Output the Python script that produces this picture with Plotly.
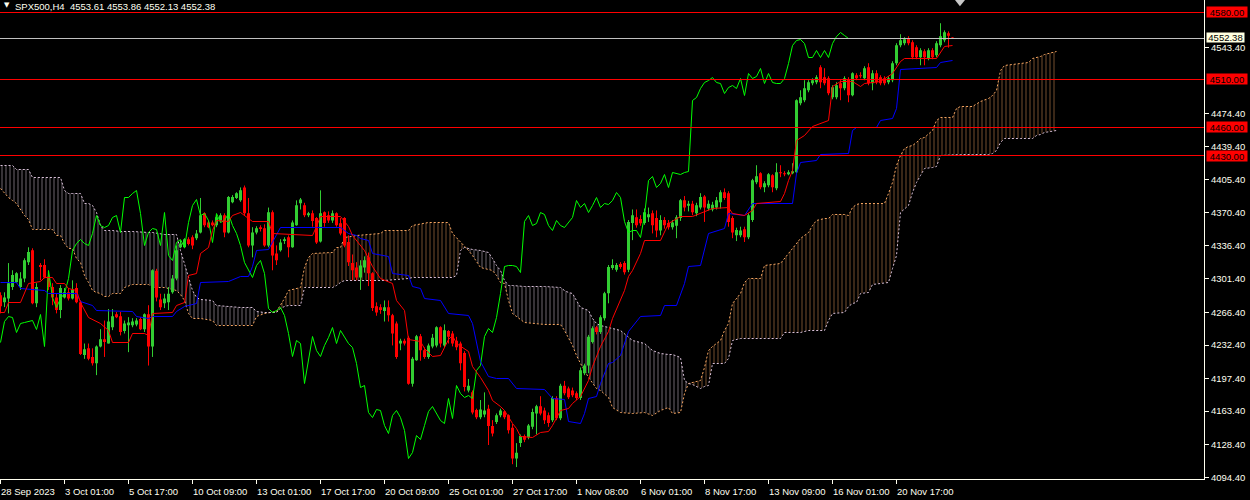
import numpy as np
import plotly.graph_objects as go

# SPX500 H4 bars, bar 0 = 28 Sep 2023
open_ = [4284.5, 4277, 4281, 4293, 4298, 4293, 4302, 4319, 4331.5, 4276,
         4316, 4316, 4304, 4293, 4282, 4269, 4282, 4287.5, 4281, 4292,
         4277, 4222, 4229, 4220, 4213.5, 4231, 4238.5, 4234, 4251, 4264.5,
         4262.5, 4247, 4253, 4253, 4254, 4259.5, 4249, 4264.5, 4231, 4310,
         4280, 4276, 4277, 4287.5, 4302, 4334.5, 4334.5, 4343, 4345, 4344,
         4350, 4370, 4360.5, 4360.5, 4357.5, 4362.5, 4368, 4350, 4381.5, 4386,
         4383.5, 4397, 4370, 4336.5, 4350, 4355.5, 4354.5, 4336.5, 4371, 4328,
         4331.5, 4341, 4345, 4334.5, 4357.5, 4380.5, 4378.5, 4368, 4370, 4365,
         4340.5, 4371, 4368, 4362.5, 4370, 4359.5, 4365, 4340, 4318, 4313.5,
         4303, 4313.5, 4324, 4307.5, 4273, 4272, 4268, 4272, 4263.5, 4255,
         4234, 4237, 4240, 4192, 4216.5, 4241.5, 4227, 4220, 4231, 4232,
         4251, 4232, 4247, 4244.5, 4237, 4234, 4224, 4185, 4183, 4164.5,
         4157, 4160, 4166, 4148, 4152, 4159, 4163, 4159, 4146, 4114,
         4130, 4137.5, 4136, 4147, 4161, 4168.5, 4164, 4159, 4154, 4177,
         4156, 4190, 4187, 4185, 4182, 4177, 4203, 4211, 4235.5, 4251,
         4246, 4260.5, 4286.5, 4313, 4311, 4317, 4318, 4311, 4360, 4366,
         4364, 4360, 4366, 4370, 4365, 4352, 4363, 4360, 4355.5, 4357,
         4365, 4383.5, 4378, 4380, 4370, 4376, 4387.5, 4375, 4374, 4376,
         4381.5, 4392, 4391, 4365, 4347, 4347, 4353.4, 4345, 4363, 4402.4,
         4411.8, 4397.2, 4399.3, 4409.7, 4396.2, 4412.9, 4411.8, 4410.8, 4411.8, 4412.9,
         4484.9, 4488.1, 4498.5, 4505.8, 4506.9, 4522.5, 4512.1, 4511.0, 4491.2, 4491.2,
         4505.8, 4500.6, 4510.0, 4493.3, 4514.2, 4514.2, 4511.0, 4522.5, 4505.8, 4516.3,
         4512.1, 4511.0, 4506.9, 4509.0, 4526.7, 4545.5, 4547.6, 4552.8, 4548.6, 4543.4,
         4533.0, 4539.2, 4531.9, 4540.3, 4535.1, 4545.5, 4550.7, 4558.0, 4553.61]
high = [4287.5, 4287.5, 4318, 4310.5, 4308.5, 4308.5, 4323, 4334.5, 4333.5, 4297,
        4318, 4322, 4307.5, 4297, 4286, 4295, 4292, 4292, 4300, 4297,
        4279, 4234, 4234, 4229, 4232, 4249, 4258, 4270, 4270, 4267,
        4267, 4258, 4261.5, 4260.5, 4260.5, 4261.5, 4265.5, 4274, 4311.5, 4312,
        4286, 4286, 4293, 4305.5, 4336.5, 4342, 4344, 4345, 4347, 4352.5,
        4386, 4371, 4362.5, 4362.5, 4368, 4370, 4370, 4388, 4389, 4392,
        4397, 4399, 4386, 4355.5, 4356.5, 4357.5, 4358.5, 4376, 4373, 4336.5,
        4343, 4345, 4347, 4362.5, 4383.5, 4386, 4381, 4371.5, 4373, 4366,
        4394, 4372, 4372, 4373, 4371, 4365, 4366, 4347, 4327, 4319,
        4321, 4325, 4329, 4308.5, 4277, 4275, 4279, 4279, 4265, 4257,
        4239, 4239, 4242, 4220, 4243, 4244, 4230, 4234, 4244, 4252,
        4252, 4254, 4248, 4247, 4241, 4236, 4226, 4197, 4185, 4166,
        4175, 4183, 4170, 4154, 4161, 4166, 4164, 4160, 4150, 4130,
        4139, 4139, 4150, 4166, 4170, 4179, 4167, 4162, 4179, 4179,
        4192, 4195, 4189, 4188, 4184, 4209, 4213, 4243, 4252, 4252.5,
        4263.5, 4288, 4316, 4322, 4318, 4319, 4320, 4363, 4374, 4374,
        4368, 4375, 4376, 4373, 4373, 4368, 4366, 4363, 4363, 4368,
        4385, 4388, 4383, 4383, 4381, 4391, 4389, 4383.5, 4382, 4387,
        4394, 4396, 4393, 4367, 4355, 4356, 4356, 4370, 4406, 4420.2,
        4412.9, 4403.5, 4412, 4410.8, 4422.3, 4420.2, 4414.0, 4415.0, 4422.3, 4489.0,
        4498.5, 4509.0, 4509.0, 4511.0, 4514.2, 4524.6, 4521.5, 4513.1, 4503.7, 4506.9,
        4509.0, 4513.1, 4512.1, 4517.3, 4516.3, 4517.3, 4523.6, 4526.7, 4519.4, 4519.4,
        4514.2, 4513.1, 4513.1, 4528.8, 4547.6, 4557.0, 4553.9, 4554.9, 4550.7, 4545.5,
        4542.4, 4541.3, 4542.4, 4542.4, 4549.7, 4568.5, 4561.0, 4560.0, 4553.86]
low = [4265.5, 4272, 4265.5, 4290, 4297, 4290, 4298, 4316, 4275, 4272,
       4300, 4302, 4290, 4274, 4265.5, 4260.5, 4281, 4279, 4280, 4276,
       4222, 4218, 4216.5, 4211, 4201, 4230, 4220, 4234, 4248, 4260.5,
       4242.5, 4244.5, 4225, 4251, 4252, 4248, 4246, 4211, 4220, 4278,
       4269, 4271, 4269, 4286, 4300, 4333.5, 4333.5, 4336.5, 4332.5, 4342,
       4349, 4355.5, 4354.5, 4356.5, 4355.5, 4360.5, 4345, 4349, 4380.5, 4385,
       4382, 4368, 4334.5, 4324, 4348, 4351, 4335, 4334.5, 4310.5, 4316,
       4330, 4338, 4324, 4334, 4357, 4374, 4366, 4366, 4356, 4338,
       4339.5, 4356, 4360, 4360, 4356, 4347, 4334.5, 4315, 4300, 4300,
       4290, 4308, 4294, 4268, 4263, 4265, 4257, 4257, 4232, 4218,
       4227, 4232, 4191, 4189, 4216, 4216, 4218, 4218, 4229, 4230,
       4230, 4230, 4234, 4231, 4227, 4206, 4184, 4183, 4160, 4155,
       4155, 4157, 4128, 4137, 4150, 4157, 4155, 4140, 4108, 4105,
       4126, 4131, 4134, 4144.5, 4139, 4159, 4150, 4147, 4152, 4154,
       4154, 4180, 4176, 4178, 4175, 4175, 4201, 4203, 4234, 4243.5,
       4244, 4258, 4276, 4311, 4309, 4312, 4306, 4308.5, 4342, 4355,
       4357, 4358, 4361, 4349, 4345, 4347, 4354, 4353, 4353, 4344,
       4362, 4372, 4372, 4368, 4367, 4374, 4361, 4373, 4372, 4374,
       4375, 4384, 4356, 4344, 4341, 4345, 4340, 4343, 4361, 4400.4,
       4395.1, 4392.0, 4397.2, 4392.0, 4394.1, 4407.7, 4408.7, 4409.7, 4410.8, 4411.8,
       4482.8, 4486.0, 4496.4, 4503.7, 4504.8, 4500.6, 4503.7, 4493.3, 4489.1, 4489.1,
       4488.1, 4498.5, 4486.0, 4492.2, 4509.0, 4511.0, 4509.0, 4503.7, 4498.5, 4504.8,
       4503.7, 4503.7, 4504.8, 4506.9, 4524.6, 4543.4, 4545.5, 4545.5, 4530.9, 4530.9,
       4524.6, 4524.6, 4529.8, 4530.9, 4533.0, 4543.4, 4548.6, 4543.0, 4552.13]
close = [4273, 4282, 4297, 4305.5, 4307.5, 4302, 4321, 4329.5, 4276, 4293,
         4314, 4303, 4293, 4282, 4269, 4292, 4287.5, 4281, 4290.5, 4277,
         4223, 4228, 4218, 4213.5, 4231, 4238.5, 4235.5, 4257, 4262.5, 4261.5,
         4246, 4255, 4256, 4257, 4258, 4249, 4264.5, 4231, 4310.5, 4282,
         4272, 4281, 4286, 4302, 4331.5, 4338.5, 4343, 4338, 4336.5, 4349,
         4368, 4357.5, 4355.5, 4357.5, 4366, 4368, 4350, 4387, 4387, 4391,
         4394, 4370, 4336.5, 4350, 4354.5, 4353.5, 4336.5, 4371, 4326, 4321,
         4339.5, 4343, 4334.5, 4360.5, 4378.5, 4384.5, 4368, 4370, 4362, 4339.5,
         4370, 4360, 4362.5, 4370, 4357.5, 4349, 4336.5, 4319, 4310.5, 4303,
         4315.5, 4321, 4307.5, 4271, 4266.5, 4269, 4272, 4263.5, 4244.5, 4220,
         4237, 4234, 4192, 4218, 4241.5, 4227, 4220, 4232, 4240, 4251,
         4234, 4248, 4241, 4234, 4230, 4213.5, 4188.5, 4190, 4162, 4157,
         4165, 4164, 4148, 4140, 4159, 4164, 4157, 4143.5, 4114, 4120,
         4137.5, 4133.5, 4148.5, 4162.5, 4168.5, 4161, 4154, 4151, 4177, 4156,
         4190, 4182, 4178, 4180, 4177, 4206, 4211, 4241, 4250, 4246,
         4261.5, 4286.5, 4314, 4316, 4316, 4314, 4308.5, 4361, 4368, 4357.5,
         4359.5, 4371, 4369, 4357.5, 4352, 4363, 4357.5, 4355.5, 4360.5, 4366,
         4383.5, 4376, 4380, 4371, 4378.5, 4387, 4376, 4380, 4379, 4383.5,
         4392, 4386, 4361, 4350, 4352.5, 4352, 4345, 4368, 4404.5, 4408.7,
         4397.2, 4401.4, 4410.8, 4397.2, 4412.9, 4411.8, 4410.8, 4412.9, 4414.0, 4488.1,
         4491.2, 4500.6, 4506.9, 4509.0, 4512.1, 4506.9, 4505.8, 4495.4, 4501.6, 4503.7,
         4500.6, 4511.0, 4493.3, 4516.3, 4511.0, 4513.1, 4521.5, 4505.8, 4516.3, 4506.9,
         4505.8, 4505.8, 4511.0, 4526.7, 4545.5, 4550.7, 4551.8, 4547.6, 4533.0, 4533.0,
         4540.3, 4533.0, 4540.3, 4533.0, 4547.6, 4554.9, 4559.1, 4555.5, 4552.38]

# Ichimoku lines, read at the bars where they turn
tenkan_bar = [0, 1, 2, 5, 7, 10, 11, 13, 14, 16, 17, 19, 20, 22, 25, 27, 28, 32, 33, 36,
              37, 38, 43, 44, 46, 47, 49, 50, 52, 53, 54, 57, 58, 60, 63, 67, 68, 78, 79, 80,
              85, 87, 88, 91, 93, 95, 98, 99, 101, 102, 105, 106, 108, 110, 112, 113, 114, 117, 118, 120,
              122, 123, 125, 126, 128, 129, 130, 133, 135, 137, 138, 140, 142, 143, 145, 147, 148, 150, 152, 153,
              156, 157, 158, 160, 161, 165, 167, 170, 173, 175, 178, 182, 183, 186, 188, 189, 195, 196, 197, 198,
              199, 201, 203, 207, 208, 210, 213, 215, 216, 220, 223, 225, 226, 234, 236, 238]
tenkan = [4266.7, 4266.7, 4277.1, 4277.1, 4297.0, 4299.0, 4303.2, 4303.2, 4297.0, 4297.0,
          4291.8, 4289.7, 4277.1, 4261.5, 4255.2, 4247.9, 4235.4, 4235.4, 4244.8, 4244.8,
          4242.7, 4265.6, 4266.7, 4274.0, 4277.1, 4305.3, 4307.4, 4328.3, 4334.6, 4352.3,
          4362.8, 4361.7, 4368.0, 4371.0, 4361.0, 4361.0, 4348.8, 4347.1, 4355.8, 4366.2,
          4366.2, 4355.8, 4347.1, 4331.4, 4314.0, 4301.9, 4296.6, 4279.2, 4268.8, 4238.0,
          4236.0, 4229.0, 4220.0, 4222.0, 4238.0, 4242.0, 4234.0, 4225.2, 4209.6, 4199.0,
          4185.2, 4174.8, 4167.8, 4164.3, 4150.0, 4145.2, 4136.5, 4135.8, 4140.6, 4141.7,
          4148.7, 4164.3, 4166.1, 4171.3, 4178.2, 4195.7, 4209.6, 4230.4, 4246.1, 4260.1,
          4289.7, 4303.5, 4310.5, 4328.0, 4341.9, 4341.9, 4359.3, 4366.2, 4366.2, 4369.7,
          4375.0, 4376.5, 4370.0, 4368.0, 4373.0, 4380.0, 4382.0, 4391.0, 4404.5, 4415.0,
          4446.3, 4451.5, 4460.2, 4467.2, 4502.0, 4507.2, 4507.2, 4502.0, 4505.5, 4507.2,
          4515.9, 4528.1, 4531.6, 4531.6, 4543.7, 4545.5]
kijun_bar = [0, 4, 5, 11, 12, 19, 20, 23, 24, 33, 34, 37, 38, 43, 44, 46, 49, 50, 57, 60,
             62, 63, 64, 67, 70, 85, 87, 89, 90, 92, 93, 97, 98, 102, 103, 105, 106, 110, 112, 117,
             118, 119, 120, 122, 124, 127, 129, 136, 138, 141, 142, 145, 146, 147, 149, 150, 152, 153, 155, 157,
             158, 160, 165, 166, 169, 171, 172, 175, 177, 181, 182, 186, 188, 198, 199, 200, 204, 205, 212, 213,
             214, 219, 220, 223, 224, 225, 234, 235, 238]
kijun = [4297.7, 4297.7, 4291.4, 4289.7, 4286.2, 4286.2, 4277.4, 4274.0, 4268.8, 4267.7,
         4261.8, 4260.1, 4262.5, 4262.5, 4267.7, 4272.2, 4275.8, 4297.7, 4299.0, 4303.5,
         4304.3, 4314.0, 4331.4, 4332.1, 4355.1, 4355.1, 4348.9, 4347.1, 4343.6, 4341.9,
         4328.0, 4324.4, 4307.1, 4305.3, 4293.1, 4291.4, 4281.0, 4278.5, 4265.3, 4263.5,
         4254.9, 4235.0, 4214.8, 4200.0, 4197.5, 4197.5, 4187.0, 4186.0, 4176.6, 4175.8,
         4152.1, 4150.4, 4161.2, 4176.6, 4178.2, 4192.2, 4213.1, 4214.5, 4221.8, 4246.1,
         4251.3, 4261.8, 4262.8, 4273.3, 4274.0, 4296.6, 4314.0, 4315.8, 4348.9, 4354.1,
         4369.7, 4368.0, 4380.2, 4380.2, 4412.0, 4423.3, 4424.7, 4431.7, 4432.4, 4456.7,
         4459.1, 4459.1, 4467.2, 4469.0, 4479.4, 4520.4, 4521.8, 4527.0, 4529.3]

# Senkou span A / B (already shifted 26 bars ahead)
cloud_bar = [0, 2, 3, 4, 6, 7, 8, 13, 14, 15, 16, 17, 18, 19, 20, 21, 22, 23, 24, 25,
             26, 27, 28, 30, 31, 33, 37, 38, 41, 44, 45, 46, 47, 48, 49, 50, 53, 54, 60, 63,
             64, 66, 69, 70, 71, 72, 75, 76, 77, 78, 83, 84, 85, 86, 89, 95, 96, 102, 103, 107,
             112, 113, 114, 115, 116, 117, 118, 120, 122, 123, 124, 125, 126, 127, 128, 131, 136, 140, 141, 142,
             143, 144, 145, 147, 148, 149, 150, 152, 153, 155, 158, 161, 163, 165, 167, 168, 170, 171, 172, 173,
             175, 176, 177, 178, 180, 181, 182, 183, 185, 186, 187, 190, 191, 195, 196, 197, 199, 200, 202, 203,
             204, 206, 207, 208, 211, 212, 213, 214, 215, 217, 218, 221, 222, 223, 224, 225, 226, 227, 228, 229,
             230, 231, 233, 234, 235, 238, 239, 240, 243, 245, 247, 248, 249, 250, 251, 255, 257, 258, 259, 260,
             261, 263, 264]
span_a = [4396.2, 4386.8, 4383.6, 4380.5, 4368.0, 4363.8, 4353.4, 4353.4, 4347.1, 4347.1,
          4338.7, 4333.5, 4333.5, 4323.1, 4318.9, 4305.3, 4298.0, 4289.7, 4287.6, 4286.5,
          4283.4, 4283.4, 4286.5, 4286.5, 4292.8, 4295.9, 4295.9, 4292.8, 4292.8, 4289.7,
          4285.5, 4279.2, 4265.6, 4260.4, 4260.4, 4260.4, 4258.3, 4253.1, 4253.1, 4253.1,
          4262.5, 4265.6, 4267.7, 4274.0, 4281.3, 4289.7, 4292.8, 4313.7, 4324.1, 4328.3,
          4329.3, 4334.6, 4334.6, 4345.0, 4347.1, 4349.2, 4352.3, 4352.3, 4357.5, 4360.7,
          4360.7, 4349.2, 4345.0, 4339.8, 4336.6, 4331.4, 4326.2, 4313.7, 4311.6, 4310.5,
          4305.3, 4298.0, 4297.0, 4279.2, 4265.6, 4256.2, 4254.2, 4254.2, 4247.9, 4240.6,
          4232.2, 4221.8, 4213.4, 4198.8, 4193.6, 4187.3, 4185.2, 4177.9, 4167.5, 4162.3,
          4161.2, 4162.3, 4159.1, 4164.3, 4167.5, 4161.2, 4162.3, 4182.1, 4192.5, 4193.6,
          4195.7, 4209.2, 4227.0, 4231.2, 4237.4, 4247.9, 4255.2, 4276.1, 4286.5, 4298.0,
          4302.2, 4302.2, 4315.8, 4317.9, 4323.1, 4329.3, 4339.8, 4344.0, 4350.2, 4357.5,
          4362.8, 4364.8, 4364.8, 4369.0, 4369.0, 4368.0, 4376.3, 4379.5, 4380.5, 4380.5,
          4380.5, 4380.5, 4390.9, 4402.4, 4420.2, 4430.6, 4437.9, 4440.0, 4441.1, 4444.2,
          4448.4, 4449.4, 4456.7, 4467.2, 4470.3, 4470.3, 4479.7, 4481.8, 4481.8, 4487.0,
          4490.2, 4493.3, 4498.5, 4519.4, 4524.6, 4526.7, 4527.8, 4531.9, 4533.0, 4534.0,
          4536.1, 4538.2, 4539.2]
span_b = [4420.2, 4420.2, 4420.2, 4416.0, 4416.0, 4416.0, 4407.7, 4407.7, 4407.7, 4407.7,
          4394.1, 4390.9, 4390.9, 4390.9, 4390.9, 4380.5, 4380.5, 4378.4, 4371.1, 4357.5,
          4352.3, 4352.3, 4352.3, 4351.3, 4351.3, 4351.3, 4350.2, 4350.2, 4348.1, 4348.1,
          4331.4, 4317.9, 4303.2, 4289.7, 4282.3, 4280.3, 4279.2, 4274.0, 4271.9, 4271.9,
          4267.7, 4266.7, 4266.7, 4270.9, 4272.9, 4274.0, 4274.0, 4292.8, 4292.8, 4292.8,
          4292.8, 4294.9, 4298.0, 4300.1, 4300.1, 4300.1, 4300.1, 4302.2, 4303.2, 4303.2,
          4303.2, 4303.2, 4305.3, 4331.4, 4334.6, 4333.5, 4332.5, 4331.4, 4329.3, 4323.1,
          4315.8, 4310.5, 4300.1, 4294.9, 4294.9, 4293.8, 4293.8, 4292.8, 4289.7, 4287.6,
          4286.5, 4279.2, 4271.9, 4268.8, 4260.4, 4255.2, 4253.1, 4251.0, 4250.0, 4247.9,
          4237.4, 4234.3, 4227.0, 4223.9, 4222.8, 4222.8, 4219.7, 4195.7, 4192.5, 4191.5,
          4187.3, 4189.4, 4190.4, 4213.4, 4213.4, 4213.4, 4218.6, 4237.4, 4239.5, 4239.5,
          4239.5, 4239.5, 4239.5, 4239.5, 4245.8, 4245.8, 4245.8, 4245.8, 4247.9, 4247.9,
          4247.9, 4247.9, 4258.3, 4265.6, 4266.7, 4272.9, 4276.1, 4277.1, 4286.5, 4287.6,
          4296.0, 4298.0, 4298.0, 4312.6, 4326.2, 4371.1, 4375.3, 4378.4, 4392.0, 4402.4,
          4409.7, 4417.1, 4418.1, 4419.1, 4430.6, 4431.7, 4431.7, 4431.7, 4431.7, 4431.7,
          4431.7, 4432.7, 4435.9, 4444.2, 4448.4, 4448.4, 4448.4, 4448.4, 4451.5, 4452.6,
          4454.7, 4455.7, 4456.7]

date_bars = list(range(0, 225, 16))
date_labels = ["28 Sep 2023", "3 Oct 01:00", "5 Oct 17:00", "10 Oct 09:00", "13 Oct 01:00",
               "17 Oct 17:00", "20 Oct 09:00", "25 Oct 01:00", "27 Oct 17:00", "1 Nov 08:00",
               "6 Nov 01:00", "8 Nov 17:00", "13 Nov 09:00", "16 Nov 01:00", "20 Nov 17:00"]
price_ticks = [4094.40, 4128.40, 4163.40, 4197.40, 4232.40, 4266.40, 4301.40, 4336.40,
               4370.40, 4405.40, 4439.40, 4474.40, 4543.40]
level_lines = [4580.00, 4510.00, 4460.00, 4430.00]
last_bar = [4553.61, 4553.86, 4552.13, 4552.38]   # O H L C shown in the header

FONT = "Liberation Sans, Arial, sans-serif"
FG = "#fffff0"
BULL = "#32cd32"
BEAR = "#ff0000"
Y0, Y1, PLOT_H = 4092.53, 4592.75, 479


def snap(vals):
    # put flat 1px lines on pixel centres so they render crisp like the terminal
    v = np.asarray(vals, dtype=float)
    px = (Y1 - v) / (Y1 - Y0) * PLOT_H
    return Y1 - (np.floor(px) + 0.5) * (Y1 - Y0) / PLOT_H


o, h, l, c = (np.array(v, dtype=float) for v in (open_, high, low, close))
a, b = np.array(span_a), np.array(span_b)

fig = go.Figure()

# --- kumo: hatched fill, sandy brown when A is on top, thistle when B is on top
lo = np.minimum(a, b)
bull_top = np.where(a >= b, a, lo)
bear_top = np.where(b > a, b, lo)
for top, col in [(bull_top, "rgba(244,164,96,0.95)"), (bear_top, "rgba(232,214,232,0.95)")]:
    fig.add_trace(go.Scatter(x=cloud_bar, y=lo, mode="lines", line=dict(width=0),
                             hoverinfo="skip"))
    fig.add_trace(go.Scatter(x=cloud_bar, y=top, mode="lines", line=dict(width=0),
                             fill="tonexty", fillcolor="rgba(0,0,0,0)",
                             fillpattern=dict(shape="|", size=4, solidity=0.25,
                                              fgcolor=col, bgcolor="rgba(0,0,0,0)"),
                             hoverinfo="skip"))
fig.add_trace(go.Scatter(x=cloud_bar, y=snap(span_a), mode="lines",
                         line=dict(color="#f4a460", width=1, dash="2px,2px")))
fig.add_trace(go.Scatter(x=cloud_bar, y=snap(span_b), mode="lines",
                         line=dict(color="#d8bfd8", width=1, dash="2px,2px")))

# --- candles (drawn as scatter so they sit above the cloud)
def candle_paths(mask):
    wx, wy, bx, by = [], [], [], []
    for i in np.where(mask)[0]:
        wx += [i, i, None]
        wy += [l[i], h[i], None]
        top, bot = max(o[i], c[i]), min(o[i], c[i])
        if top - bot < 1.0:
            mid = (top + bot) / 2
            top, bot = mid + 0.5, mid - 0.5
        bx += [i - 0.375, i + 0.375, i + 0.375, i - 0.375, i - 0.375, None]
        by += [bot, bot, top, top, bot, None]
    return wx, wy, bx, by

for mask, col in [(c >= o, BULL), (c < o, BEAR)]:
    wx, wy, bx, by = candle_paths(mask)
    fig.add_trace(go.Scatter(x=wx, y=wy, mode="lines", line=dict(color=col, width=1)))
    fig.add_trace(go.Scatter(x=bx, y=by, mode="lines", fill="toself", fillcolor=col,
                             line=dict(width=0)))

# --- chikou (close shifted back 26 bars), kijun, tenkan
chikou = close[26:]
fig.add_trace(go.Scatter(x=list(range(len(chikou))), y=snap(chikou), mode="lines",
                         line=dict(color="#00ff00", width=1)))
fig.add_trace(go.Scatter(x=kijun_bar, y=snap(kijun), mode="lines",
                         line=dict(color="#0000ff", width=1)))
fig.add_trace(go.Scatter(x=tenkan_bar, y=snap(tenkan), mode="lines",
                         line=dict(color="#ff0000", width=1)))

# --- horizontal levels and the bid line
for lv, ly in zip(level_lines, snap(level_lines)):
    fig.add_shape(type="line", xref="paper", x0=0, x1=1, yref="y", y0=ly, y1=ly,
                  line=dict(color="#ff0000", width=1))
    fig.add_annotation(xref="paper", x=1, xanchor="left", xshift=2, yref="y", y=lv,
                       text=f"{lv:.2f}", showarrow=False, bgcolor="#ff0000", width=40, height=10,
                       borderpad=0, align="center", font=dict(family=FONT, size=9.5, color="#000000"))
bid_y = snap([last_bar[3]])[0]
fig.add_shape(type="line", xref="paper", x0=0, x1=1, yref="y", y0=bid_y, y1=bid_y,
              line=dict(color="#c0c0c0", width=1))
fig.add_annotation(xref="paper", x=1, xanchor="left", xshift=2, yref="y", y=last_bar[3],
                   yshift=1, text=f"{last_bar[3]:.2f}", showarrow=False, bgcolor="#ffffe0",
                   width=37, height=9, borderpad=0, align="center",
                   font=dict(family=FONT, size=9.5, color="#000000"))

# shift marker at the top
fig.add_shape(type="path", xref="paper", yref="paper",
              path="M 0.7932 1 L 0.8015 1 L 0.7973 0.987 Z",
              fillcolor="#c8c8c8", line=dict(width=0))

# header
fig.add_annotation(xref="paper", yref="paper", x=0, y=1, xanchor="left", yanchor="top",
                   xshift=2, yshift=1, text="▼", showarrow=False,
                   font=dict(family="DejaVu Sans", size=7, color=FG))
fig.add_annotation(xref="paper", yref="paper", x=0, y=1, xanchor="left", yanchor="top",
                   xshift=13, yshift=1,
                   text="SPX500,H4  " + " ".join(f"{v:.2f}" for v in last_bar),
                   showarrow=False, font=dict(family=FONT, size=9.5, color=FG))

# date labels, left-aligned at their ticks like the terminal does
for xb, txt in zip(date_bars, date_labels):
    fig.add_annotation(xref="x", x=xb, yref="paper", y=0, xanchor="left", yanchor="top",
                       xshift=-2, yshift=-5, text=txt, showarrow=False,
                       font=dict(family=FONT, size=9.5, color=FG))

fig.update_layout(
    width=1250, height=500,
    margin=dict(l=0, r=46, t=0, b=21),
    paper_bgcolor="#000000", plot_bgcolor="#000000",
    showlegend=False,
    xaxis=dict(range=[-0.125, 300.875], showgrid=False, zeroline=False,
               tickvals=date_bars, showticklabels=False, ticks="outside", ticklen=4,
               tickcolor=FG, showline=True, linecolor=FG, linewidth=1, fixedrange=True),
    yaxis=dict(range=[Y0, Y1], side="right", showgrid=False, zeroline=False,
               tickvals=price_ticks, ticktext=[f"{v:.2f}" for v in price_ticks],
               ticks="outside", ticklen=4, tickcolor=FG, showline=True, linecolor=FG,
               linewidth=1, tickfont=dict(family=FONT, size=9.5, color=FG), fixedrange=True),
)

# the page's default 8px body margin would push the chart off the window
fig.write_html("out.html", config={"displayModeBar": False},
               post_script="document.body.style.margin='0px';"
                           "document.body.style.background='#000000';")
